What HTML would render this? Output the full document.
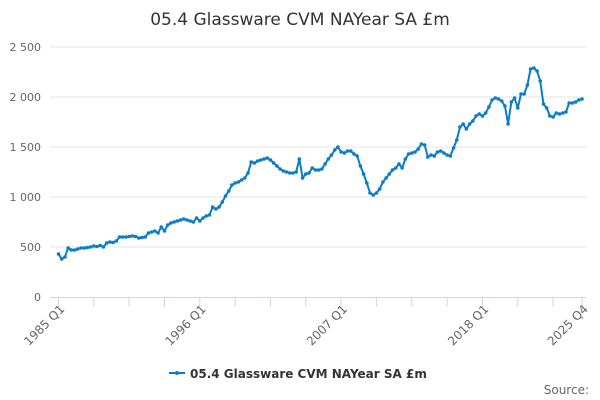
<!DOCTYPE html>
<html><head><meta charset="utf-8">
<style>
html,body{margin:0;padding:0;background:#fff;}
svg{display:block;font-family:"DejaVu Sans","Liberation Sans",sans-serif;}
</style></head>
<body>
<svg id="chart" width="600" height="400">
<text x="300" y="25" text-anchor="middle" font-size="17" fill="#333">05.4 Glassware CVM NAYear SA £m</text>
<g id="grid"></g>
<g id="yticks"></g>
<g id="xaxis"></g>
<g id="series"></g>
<g>
<line x1="169" y1="373" x2="185" y2="373" stroke="#0a7dc6" stroke-width="2"/>
<circle cx="177" cy="373" r="2" fill="#0a7dc6"/>
<text x="190" y="378" font-size="12" font-weight="bold" fill="#333">05.4 Glassware CVM NAYear SA £m</text>
</g>
<text x="589" y="394" text-anchor="end" font-size="12" fill="#666">Source:</text>
</svg>
<script>
const startYear = 1985;
const yTicks = [0, 500, 1000, 1500, 2000, 2500];
const yTickLabels = ["0", "500", "1 000", "1 500", "2 000", "2 500"];
const xLabelIdx = [0, 44, 88, 132, 163];
const xLabels = ["1985 Q1", "1996 Q1", "2007 Q1", "2018 Q1", "2025 Q4"];
const values = [430,380,400,490,470,470,480,490,490,495,500,510,505,515,500,540,550,545,560,600,
600,600,605,610,605,590,595,600,640,650,660,640,700,660,720,740,750,760,770,780,
770,760,750,790,760,790,810,820,900,880,900,950,1010,1060,1120,1140,1150,1170,1190,1240,
1350,1340,1360,1370,1380,1390,1370,1340,1310,1280,1260,1250,1240,1240,1250,1380,1190,1230,1240,1290,
1270,1270,1280,1330,1380,1420,1470,1500,1450,1440,1460,1460,1430,1410,1310,1230,1140,1040,1020,1040,
1080,1150,1190,1230,1270,1290,1330,1290,1380,1430,1440,1450,1480,1530,1520,1400,1420,1410,1450,1460,
1440,1420,1410,1490,1570,1700,1730,1680,1730,1760,1810,1830,1810,1840,1900,1970,1990,1980,1960,1910,
1730,1950,1990,1890,2030,2030,2120,2280,2290,2260,2160,1930,1890,1810,1800,1840,1830,1840,1850,1940,
1940,1950,1970,1980];

const NS = "http://www.w3.org/2000/svg";
const X0 = 58.5, X1 = 582, Y0 = 297, YSCALE = 0.1;
const n = values.length;
function xs(i){ return X0 + (X1 - X0) * i / (n - 1); }
function ys(v){ return Y0 - v * YSCALE; }
function mk(tag, attrs, parent){ const e = document.createElementNS(NS, tag); for (const k in attrs) e.setAttribute(k, attrs[k]); parent.appendChild(e); return e; }

const grid = document.getElementById('grid');
const yt = document.getElementById('yticks');
yTicks.forEach((v, k) => {
  if (v > 0) {
    const g = mk('line', {x1: 50, x2: 586, y1: ys(v), y2: ys(v), stroke: '#e6e6e6', 'stroke-width': 1}, grid);
    
    
  }
  const t = mk('text', {x: 41, y: ys(v) + 4, 'text-anchor': 'end', 'font-size': 11, fill: '#666'}, yt);
  t.textContent = yTickLabels[k];
  
  
});

const xa = document.getElementById('xaxis');
const axl = mk('line', {x1: 50, x2: 586, y1: 297.5, y2: 297.5, stroke: '#ccd6eb', 'stroke-width': 1}, xa);


const tickIdx = [];
for (let i = 0; i < n; i += 11) tickIdx.push(i);
tickIdx.push(n - 1);
tickIdx.forEach(i => {
  const t = mk('line', {x1: xs(i), x2: xs(i), y1: 297, y2: 307, stroke: '#ccd6eb', 'stroke-width': 1}, xa);
  
  
});
xLabelIdx.forEach((i, k) => {
  const x = xs(i) + 4, y = 307;
  const t = mk('text', {x: x, y: y + 4, 'text-anchor': 'end', 'font-size': 12, fill: '#666', transform: `rotate(-45 ${x} ${y})`}, xa);
  t.textContent = xLabels[k];
  
  
});

const sg = document.getElementById('series');
let d = '';
values.forEach((v, i) => { d += (i ? 'L' : 'M') + xs(i).toFixed(2) + ' ' + ys(v).toFixed(2); });
const path = mk('path', {d: d, fill: 'none', stroke: '#0a7dc6', 'stroke-width': 2, 'stroke-linejoin': 'round'}, sg);


values.forEach((v, i) => {
  const c = mk('circle', {cx: xs(i), cy: ys(v), r: 1.8, fill: '#0a7dc6'}, sg);
  
  
});
</script>
</body></html>
